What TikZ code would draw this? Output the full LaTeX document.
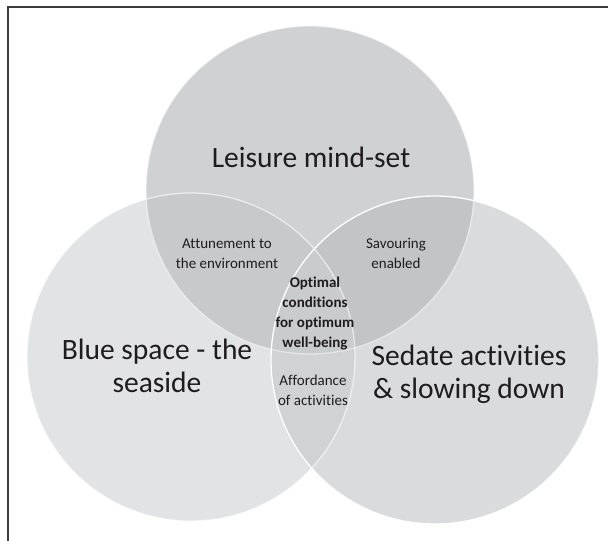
\documentclass[tikz,border=0pt]{standalone}
\usepackage{fontspec}
\setmainfont{Carlito}[Ligatures=NoCommon]
\usetikzlibrary{positioning}
\definecolor{LeisGrey}{HTML}{D0D1D3}
\definecolor{BlueGrey}{HTML}{E2E3E4}
\definecolor{SedGrey}{HTML}{DADBDC}
\definecolor{TopLeftGrey}{HTML}{C8C9CB}
\definecolor{TopRightGrey}{HTML}{C3C4C6}
\definecolor{LeftRightGrey}{HTML}{D1D2D4}
\definecolor{CentreGrey}{HTML}{CACBCD}
\definecolor{TextGrey}{HTML}{1F1C1D}
\definecolor{FrameGrey}{HTML}{3C3C3C}
\begin{document}
\begin{tikzpicture}[x=1pt,y=-1pt,
  every node/.style={text=TextGrey,inner sep=0pt,anchor=base},
  ring/.style={draw=white,line width=1.3pt},
  bigtext/.style={align=center,font=\fontsize{29.5}{33}\selectfont},
  smalltext/.style={align=center,font=\fontsize{15}{19.5}\selectfont},
  boldtext/.style={align=center,font=\fontsize{15}{19.7}\selectfont\bfseries}]
  \useasboundingbox (0,0) rectangle (608,541);

  \coordinate (Leis) at (310,190);
  \coordinate (Blue) at (191,357);
  \coordinate (Sed)  at (435,360);

  % frame, cut at the right and bottom
  \draw [FrameGrey,line width=1.5pt] (608,7) -- (8,7) -- (8,541);

  % the three sets
  \fill [LeisGrey] (Leis) circle (164pt);
  \fill [BlueGrey] (Blue) circle (164pt);
  \fill [SedGrey]  (Sed)  circle (164pt);

  % overlaps
  \begin{scope}
    \clip (Blue) circle (164pt);
    \fill [LeftRightGrey] (Sed) circle (164pt);
  \end{scope}
  \begin{scope}
    \clip (Leis) circle (164pt);
    \fill [TopLeftGrey] (Blue) circle (164pt);
    \fill [TopRightGrey] (Sed) circle (164pt);
    \clip (Blue) circle (164pt);
    \fill [CentreGrey] (Sed) circle (164pt);
  \end{scope}

  \draw [ring,draw opacity=0.5] (Leis) circle (164pt);
  \draw [ring,draw opacity=0.6] (Blue) circle (164pt);
  \draw [ring] (Sed) circle (164pt);

  % labels (base = last line)
  \node [bigtext] (leisure) at (311,167) {Leisure mind-set};
  \node [bigtext] (blue) at (157,392) {Blue space - the\\seaside};
  \node [bigtext] (sedate) at (469,398) {Sedate activities\\\& slowing down};

  \node [smalltext] (attune) at (227,268) {Attunement to\\the environment};
  \node [smalltext] (savour) at (396,268) {Savouring\\enabled};
  \node [smalltext] (afford) at (313,405) {Affordance\\of activities};
  \node [boldtext] (optimal) at (315,347) {Optimal\\conditions\\for optimum\\well-being};
\end{tikzpicture}
\end{document}
